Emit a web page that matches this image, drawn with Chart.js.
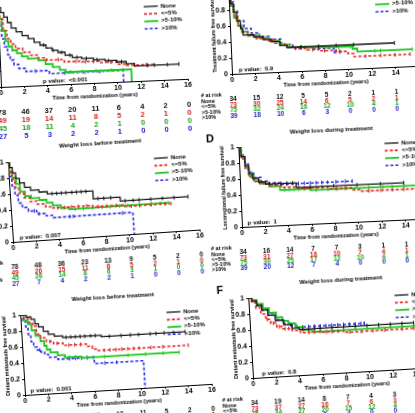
<!DOCTYPE html>
<html>
<head>
<meta charset="utf-8">
<script src="https://cdn.jsdelivr.net/npm/chart.js@4.4.1/dist/chart.umd.min.js"></script>
<style>
  html, body { margin: 0; padding: 0; background: #fff; }
  body { width: 415px; height: 413px; overflow: hidden; position: relative; }
  .panel { position: absolute; width: 270px; height: 165px; filter: blur(0.3px); }
</style>
</head>
<body>
<script>
// groups, ticks
const groups = ["None", "<=5%", ">5-10%", ">10%"];
const riskYears = [0, 2, 4, 6, 8, 10, 12, 14, 16];

// Kaplan-Meier steps [time, survival] and censor times
// A: treatment failure free survival, weight loss before treatment
const A_none = [[0,1],[0.25,0.93],[0.5,0.87],[0.8,0.8],[1.1,0.73],[1.5,0.68],[2,0.63],[2.5,0.59],[3,0.54],[3.5,0.5],[4,0.46],[4.5,0.43],[5,0.4],[5.6,0.36],[6.2,0.33],[7,0.31],[8,0.29],[9,0.27],[10,0.25],[10.8,0.22],[11.5,0.19],[15.3,0.19]];
const A_none_c = [3.8,4.6,5.3,6,6.6,7.4,8.3,9.3,10.4,12.6,13.2,14.3,15.3];
const A_le5 = [[0,1],[0.15,0.85],[0.4,0.7],[0.7,0.6],[1,0.53],[1.4,0.47],[2,0.42],[2.6,0.38],[3.3,0.34],[4,0.31],[5.5,0.28],[7,0.27],[8.5,0.25],[10,0.22],[10.8,0.2],[13.2,0.2]];
const A_le5_c = [5,6.5,7.3,8,9.5,11.5,12.5];
const A_5to10 = [[0,1],[0.1,0.85],[0.3,0.7],[0.55,0.57],[0.8,0.5],[1.1,0.45],[1.5,0.41],[1.9,0.37],[2.4,0.34],[3.3,0.31],[3.9,0.26],[4.5,0.22],[5.1,0.18],[5.6,0.15],[11.2,0]];
const A_5to10_c = [6,7,8.2,9.5,10.5];
const A_gt10 = [[0,1],[0.1,0.78],[0.25,0.6],[0.45,0.5],[0.7,0.4],[0.9,0.33],[1.2,0.27],[1.6,0.22],[2.2,0.18],[4.2,0.14],[10.5,0]];
const A_gt10_c = [3,5.5,7.2,8.5];
const A_risk = [[78,46,37,20,11,6,4,2,0],[49,19,14,11,8,5,2,1,0],[45,18,11,4,2,1,0,0,0],[27,5,3,2,2,1,0,0,0]];

// B: treatment failure free survival, weight loss during treatment
const B_none = [[0,1],[0.15,0.88],[0.35,0.77],[0.6,0.66],[0.9,0.56],[1.1,0.48],[2,0.45],[2.8,0.41],[3.5,0.38],[4.2,0.33],[4.8,0.3],[14,0.3]];
const B_none_c = [6,7.5,9,10.5,14];
const B_le5 = [[0,1],[0.15,0.86],[0.4,0.72],[0.7,0.6],[1,0.52],[1.5,0.47],[2.2,0.43],[3,0.4],[3.8,0.36],[4.6,0.31],[5.5,0.28],[6.5,0.26],[7.5,0.24],[9,0.22],[10,0.19],[10.5,0.15],[15.3,0.15]];
const B_le5_c = [3.4,3.6,7,8,9.3,11.5,12.8,14,15.3];
const B_5to10 = [[0,1],[0.15,0.85],[0.4,0.7],[0.7,0.6],[1,0.52],[1.5,0.47],[2.5,0.43],[3.3,0.39],[4.2,0.34],[5,0.3],[6.5,0.29],[8,0.28],[10.4,0.25],[10.8,0.21],[15.5,0.21]];
const B_5to10_c = [6,7.5,9.2,10.2,12.3,12.8,15.5];
const B_gt10 = [[0,1],[0.15,0.9],[0.4,0.78],[0.7,0.66],[1.2,0.56],[1.8,0.5],[2.5,0.45],[3.3,0.41],[4.3,0.34],[5.3,0.29],[7,0.27],[8.8,0.22],[9.6,0.22]];
const B_gt10_c = [5.5,6,8.9,9.3];
const B_risk = [[34,15,12,5,5,2,1,1,0],[73,30,25,14,6,5,2,1,0],[75,32,24,16,12,10,4,1,0],[39,18,10,6,3,0,0,0,0]];

// C: locoregional failure free survival, weight loss before treatment
const C_none = [[0,1],[0.15,0.93],[0.35,0.86],[0.6,0.79],[0.9,0.73],[1.3,0.67],[1.8,0.63],[2.5,0.6],[3.2,0.57],[7.1,0.47],[9.4,0.42],[15.2,0.42]];
const C_none_c = [3.6,4,4.4,4.8,5.3,5.7,6.1,6.5,7.5,8,8.6,9.8,10.5,11,12,13,14,15.2];
const C_le5 = [[0,1],[0.1,0.88],[0.3,0.78],[0.5,0.68],[0.8,0.6],[1.2,0.54],[1.7,0.49],[2.3,0.45],[3,0.41],[3.4,0.39],[7,0.37],[9.6,0.35],[13.7,0.35]];
const C_le5_c = [4,4.6,5.2,5.8,6.5,7.5,8.2,9,10.3,11,12,13.2,13.7];
const C_5to10 = [[0,1],[0.1,0.88],[0.3,0.8],[0.6,0.72],[0.9,0.62],[1.3,0.56],[1.8,0.53],[2.5,0.5],[3.1,0.46],[3.6,0.42],[4.3,0.38],[5,0.36],[13.5,0.36]];
const C_5to10_c = [5.5,6.2,7,7.8,8.5,9.3,10,11,12,12.8,13.5];
const C_gt10 = [[0,1],[0.1,0.82],[0.25,0.7],[0.45,0.58],[0.7,0.48],[1,0.42],[1.5,0.37],[2.2,0.33],[3,0.3],[3.6,0.27],[10.4,0]];
const C_gt10_c = [2,2.4,5,5.3,9.5];
const C_risk = [[78,48,36,23,13,9,5,2,0],[49,26,15,11,8,5,2,1,0],[45,26,14,8,6,3,1,0,0],[27,7,4,2,2,1,0,0,0]];

// D: locoregional failure free survival, weight loss during treatment
const D_none = [[0,1],[0.2,0.88],[0.5,0.76],[0.8,0.66],[1.1,0.6],[1.6,0.55],[2.2,0.52],[4.8,0.46],[14,0.46]];
const D_none_c = [2.5,3,3.5,4,4.5,6,8,10,12,14];
const D_le5 = [[0,1],[0.2,0.85],[0.5,0.72],[0.8,0.62],[1.2,0.56],[1.7,0.53],[2.5,0.5],[3.5,0.47],[5,0.45],[7.5,0.43],[9.5,0.4],[10.2,0.38],[15.3,0.38]];
const D_le5_c = [5.5,6.5,7,8.3,9,11,12,13,14,15.3];
const D_5to10 = [[0,1],[0.2,0.87],[0.5,0.74],[0.8,0.64],[1.2,0.57],[1.8,0.53],[2.5,0.49],[3.4,0.44],[6,0.42],[15.5,0.42]];
const D_5to10_c = [3.8,4.2,4.6,5,5.5,6.5,7.5,8.2,9,9.8,11,12.2,13,14,15.5];
const D_gt10 = [[0,1],[0.2,0.9],[0.5,0.78],[0.8,0.68],[1.2,0.61],[1.8,0.56],[2.5,0.53],[3.5,0.51],[9.6,0.51]];
const D_gt10_c = [4,5,5.5,6,6.5,7,7.5,8.2,9,9.6];
const D_risk = [[34,16,14,7,7,3,1,1,0],[73,31,27,18,10,7,4,1,0],[75,30,25,17,12,10,4,1,0],[39,20,12,7,4,0,0,0,0]];

// E: distant metastasis free survival, weight loss before treatment
const E_none = [[0,1],[0.5,0.97],[0.9,0.94],[1.2,0.88],[1.5,0.84],[1.9,0.78],[2.3,0.74],[2.8,0.71],[3.5,0.69],[6.8,0.67],[14,0.67]];
const E_none_c = [3.8,4.2,4.6,5,5.4,5.9,6.3,7.5,8.5,9.3,10,11,11.5,12.2,13,14];
const E_le5 = [[0,1],[0.3,0.95],[0.7,0.9],[1,0.85],[1.3,0.75],[1.6,0.7],[2.1,0.65],[2.7,0.62],[3.5,0.59],[5.5,0.56],[6,0.52],[6.4,0.5],[14.2,0.5]];
const E_le5_c = [2.4,3,4,4.5,5,7,7.5,8,8.5,9,9.5,10,11,12,14.2];
const E_5to10 = [[0,1],[0.3,0.93],[0.6,0.88],[0.9,0.8],[1.2,0.73],[1.6,0.66],[1.9,0.6],[2.1,0.55],[2.4,0.51],[3,0.47],[3.6,0.44],[5,0.42],[13.4,0.42]];
const E_5to10_c = [4,4.5,5.5,6,7,9,10.5,12,13.4];
const E_gt10 = [[0,1],[0.2,0.93],[0.4,0.85],[0.6,0.75],[0.8,0.66],[1,0.59],[1.3,0.55],[1.6,0.52],[1.9,0.49],[2.2,0.45],[3,0.42],[6.1,0.34],[10.3,0]];
const E_gt10_c = [1.5,4,4.5,5,5.5,7,8];
const E_risk = [[78,56,44,28,17,11,5,2,0],[49,31,22,14,10,6,2,1,0],[45,29,18,10,7,3,1,0,0],[27,10,5,3,2,1,0,0,0]];

// F: distant metastasis free survival, weight loss during treatment
const F_none = [[0,1],[0.3,0.96],[0.7,0.9],[1.1,0.84],[1.6,0.77],[2.2,0.7],[2.9,0.64],[3.6,0.59],[4.2,0.57],[14,0.57]];
const F_none_c = [4.5,5,5.5,6,7,8,9,10,11,12,13,14];
const F_le5 = [[0,1],[0.3,0.94],[0.6,0.87],[1,0.79],[1.4,0.72],[1.8,0.67],[2.3,0.62],[2.8,0.59],[3.6,0.56],[4.3,0.53],[6,0.52],[8,0.5],[15.3,0.5]];
const F_le5_c = [1.5,2,2.5,3,3.3,5,5.5,6.5,7,7.5,8.5,9.5,10.5,11.5,13,14,15.3];
const F_5to10 = [[0,1],[0.3,0.97],[0.7,0.92],[1.2,0.86],[1.7,0.8],[2.3,0.74],[2.8,0.69],[3.3,0.65],[3.9,0.6],[4.5,0.56],[5.3,0.53],[15.5,0.53]];
const F_5to10_c = [6,7,8,9,10,11,12,13,14,15.5];
const F_gt10 = [[0,1],[0.3,0.95],[0.7,0.9],[1.1,0.84],[1.6,0.77],[2.2,0.71],[2.8,0.66],[3.5,0.62],[4,0.6],[9.8,0.6]];
const F_gt10_c = [4.5,5,5.5,6,6.5,7,7.5,8,8.5,9,9.5,9.8];
const F_risk = [[34,19,14,8,7,4,3,1,0],[73,37,27,16,7,6,3,1,0],[75,34,27,20,15,12,4,1,0],[39,20,13,8,4,0,0,0,0]];

const FONT = "'Liberation Sans', Arial, sans-serif";
Chart.defaults.font.family = FONT;
Chart.defaults.font.weight = "bold";
Chart.defaults.color = "#000";

const lineColors = ["#151515", "#e52828", "#1fc81f", "#2d2de8"];
const lineWidths = [1.3, 1.6, 1.8, 1.6];
const textColors = ["#111111", "#d42020", "#1aa61a", "#2222cc"];
const dashes = [[], [3, 2], [], [3, 2]];

// where each panel's plot origin lands in the photo, and its tilt
const panels = [
  { letter: "A", ox: 1, oy: 87, angle: -2.5, rowGap: 8, numSize: 7.5, legTop: 6, title: "Weight loss before treatment", ylabel: "Treatment failure free survival", pval: "<0.001", pAt: 3.6, curves: [[A_none, A_none_c], [A_le5, A_le5_c], [A_5to10, A_5to10_c], [A_gt10, A_gt10_c]], risk: A_risk },
  { letter: "B", ox: 231.7, oy: 74, angle: -2.5, rowGap: 5.6, numSize: 6.5, legTop: 2, title: "Weight loss during treatment", ylabel: "Treatment failure free survival", pval: "0.9", pAt: 0.6, curves: [[B_none, B_none_c], [B_le5, B_le5_c], [B_5to10, B_5to10_c], [B_gt10, B_gt10_c]], risk: B_risk },
  { letter: "C", ox: 13, oy: 242, angle: -3.8, rowGap: 5.5, numSize: 6.5, legTop: 6, title: "Weight loss before treatment", ylabel: "Locoregional failure free survival", pval: "0.007", pAt: 0.6, curves: [[C_none, C_none_c], [C_le5, C_le5_c], [C_5to10, C_5to10_c], [C_gt10, C_gt10_c]], risk: C_risk },
  { letter: "D", ox: 242.3, oy: 226.7, angle: -2.6, rowGap: 5.3, numSize: 6.5, legTop: 3, title: "Weight loss during treatment", ylabel: "Locoregional failure free survival", pval: "1", pAt: 0.5, curves: [[D_none, D_none_c], [D_le5, D_le5_c], [D_5to10, D_5to10_c], [D_gt10, D_gt10_c]], risk: D_risk },
  { letter: "E", ox: 25, oy: 395, angle: -3.4, rowGap: 5.3, numSize: 6.5, legTop: 6, title: "Weight loss before treatment", ylabel: "Distant metastasis free survival", pval: "0.001", pAt: 0.5, curves: [[E_none, E_none_c], [E_le5, E_le5_c], [E_5to10, E_5to10_c], [E_gt10, E_gt10_c]], risk: E_risk },
  { letter: "F", ox: 253.3, oy: 378.3, angle: -3.4, rowGap: 5.3, numSize: 6.5, legTop: 6, title: "Weight loss during treatment", ylabel: "Distant metastasis free survival", pval: "0.8", pAt: 0.8, curves: [[F_none, F_none_c], [F_le5, F_le5_c], [F_5to10, F_5to10_c], [F_gt10, F_gt10_c]], risk: F_risk }
];

function survAt(steps, t) {
  let s = steps[0][1];
  for (const p of steps) {
    if (p[0] <= t) s = p[1];
  }
  return s;
}

function buildSeries(steps, cens) {
  const pts = steps.map(p => ({ x: p[0], y: p[1] }));
  cens.forEach(t => pts.push({ x: t, y: survAt(steps, t), c: 1 }));
  pts.sort((a, b) => (a.x - b.x) || ((a.c ? 1 : 0) - (b.c ? 1 : 0)));
  return pts;
}

function extrasPlugin(p) {
  return {
    id: "extras" + p.letter,
    afterDraw(chart) {
      const ctx = chart.ctx;
      const ca = chart.chartArea;
      const xs = chart.scales.x;
      const mid = (ca.left + ca.right) / 2;
      ctx.save();
      ctx.fillStyle = "#000";
      ctx.textAlign = "center";
      ctx.textBaseline = "middle";

      ctx.font = `bold 6px ${FONT}`;
      ctx.fillText(p.title, mid, ca.top - 13);
      ctx.font = `bold 11px ${FONT}`;
      ctx.fillText(p.letter, ca.left - 28, ca.top - 9);
      ctx.font = `bold 5.5px ${FONT}`;
      ctx.fillText("Time from randomization (years)", mid, ca.bottom + 13);

      ctx.save();
      ctx.translate(ca.left - 16, (ca.top + ca.bottom) / 2);
      ctx.rotate(-Math.PI / 2);
      ctx.font = `bold 5.3px ${FONT}`;
      ctx.fillText(p.ylabel, 0, 0);
      ctx.restore();

      // p value
      ctx.textAlign = "left";
      ctx.textBaseline = "alphabetic";
      ctx.font = `bold 6px ${FONT}`;
      const px = xs.getPixelForValue(p.pAt);
      ctx.fillText("p value:", px, ca.bottom - 2.5);
      ctx.fillText(p.pval, px + 26, ca.bottom - 2.5);

      // legend
      ctx.textBaseline = "middle";
      groups.forEach((g, i) => {
        const y = ca.top + p.legTop + i * 7.4;
        ctx.strokeStyle = lineColors[i];
        ctx.lineWidth = lineWidths[i];
        ctx.setLineDash(dashes[i]);
        ctx.beginPath();
        ctx.moveTo(xs.getPixelForValue(12.5), y);
        ctx.lineTo(xs.getPixelForValue(13.7), y);
        ctx.stroke();
        ctx.setLineDash([]);
        ctx.fillStyle = "#000";
        ctx.fillText(g, xs.getPixelForValue(13.95), y);
      });

      // number at risk table
      const lx = ca.left - 32;
      const top = ca.bottom + 25.5;
      ctx.font = `bold 5.5px ${FONT}`;
      ctx.fillText("# at risk", lx, top - 5);
      groups.forEach((g, i) => ctx.fillText(g, lx, top + 0.5 + i * p.rowGap));
      ctx.textAlign = "center";
      ctx.font = `bold ${p.numSize}px ${FONT}`;
      p.risk.forEach((row, i) => {
        ctx.fillStyle = textColors[i];
        row.forEach((n, j) => {
          ctx.fillText(String(n), xs.getPixelForValue(riskYears[j]), top + i * p.rowGap);
        });
      });
      ctx.restore();
    }
  };
}

function renderPanel(p) {
  const wrap = document.createElement("div");
  wrap.className = "panel";
  const canvas = document.createElement("canvas");
  canvas.width = 270;
  canvas.height = 165;
  wrap.appendChild(canvas);
  document.body.appendChild(wrap);

  const chart = new Chart(canvas, {
    type: "line",
    data: {
      datasets: p.curves.map((c, i) => ({
        label: groups[i],
        data: buildSeries(c[0], c[1]),
        // horizontal first, then the drop: survival holds until the next event
        stepped: "before",
        borderColor: lineColors[i],
        borderWidth: lineWidths[i],
        borderDash: dashes[i],
        fill: false,
        pointStyle: "line",
        rotation: 90,
        pointRadius: ctx => (ctx.raw && ctx.raw.c ? 2 : 0),
        pointBorderWidth: 1,
        pointBorderColor: lineColors[i],
        pointHoverRadius: 0
      }))
    },
    options: {
      responsive: false,
      animation: false,
      events: [],
      layout: { padding: { left: 48, right: 13, top: 30, bottom: 43 } },
      plugins: { legend: { display: false }, tooltip: { enabled: false } },
      scales: {
        x: {
          type: "linear",
          min: 0,
          max: 16,
          afterFit: s => { s.height = 12; },
          ticks: { stepSize: 2, padding: 0, font: { size: 7, weight: "bold" }, color: "#000", maxRotation: 0 },
          grid: { display: true, drawOnChartArea: false, drawTicks: true, tickLength: 2, color: "#000" },
          border: { display: true, color: "#000", width: 1 }
        },
        y: {
          min: 0,
          max: 1,
          afterFit: s => { s.width = 22; },
          ticks: {
            stepSize: 0.2,
            padding: 2,
            font: { size: 7, weight: "bold" },
            color: "#000",
            callback: v => (v === 0 ? "0" : v === 1 ? "1" : v.toFixed(1))
          },
          grid: { display: true, drawOnChartArea: false, drawTicks: true, tickLength: 2, color: "#000" },
          border: { display: true, color: "#000", width: 1 }
        }
      }
    },
    plugins: [extrasPlugin(p)]
  });

  // pin the plot origin onto its spot in the photo, then tilt around it
  const ca = chart.chartArea;
  wrap.style.left = (p.ox - ca.left) + "px";
  wrap.style.top = (p.oy - ca.bottom) + "px";
  wrap.style.transformOrigin = `${ca.left}px ${ca.bottom}px`;
  wrap.style.transform = `rotate(${p.angle}deg)`;
}

panels.forEach(renderPanel);
</script>
</body>
</html>
